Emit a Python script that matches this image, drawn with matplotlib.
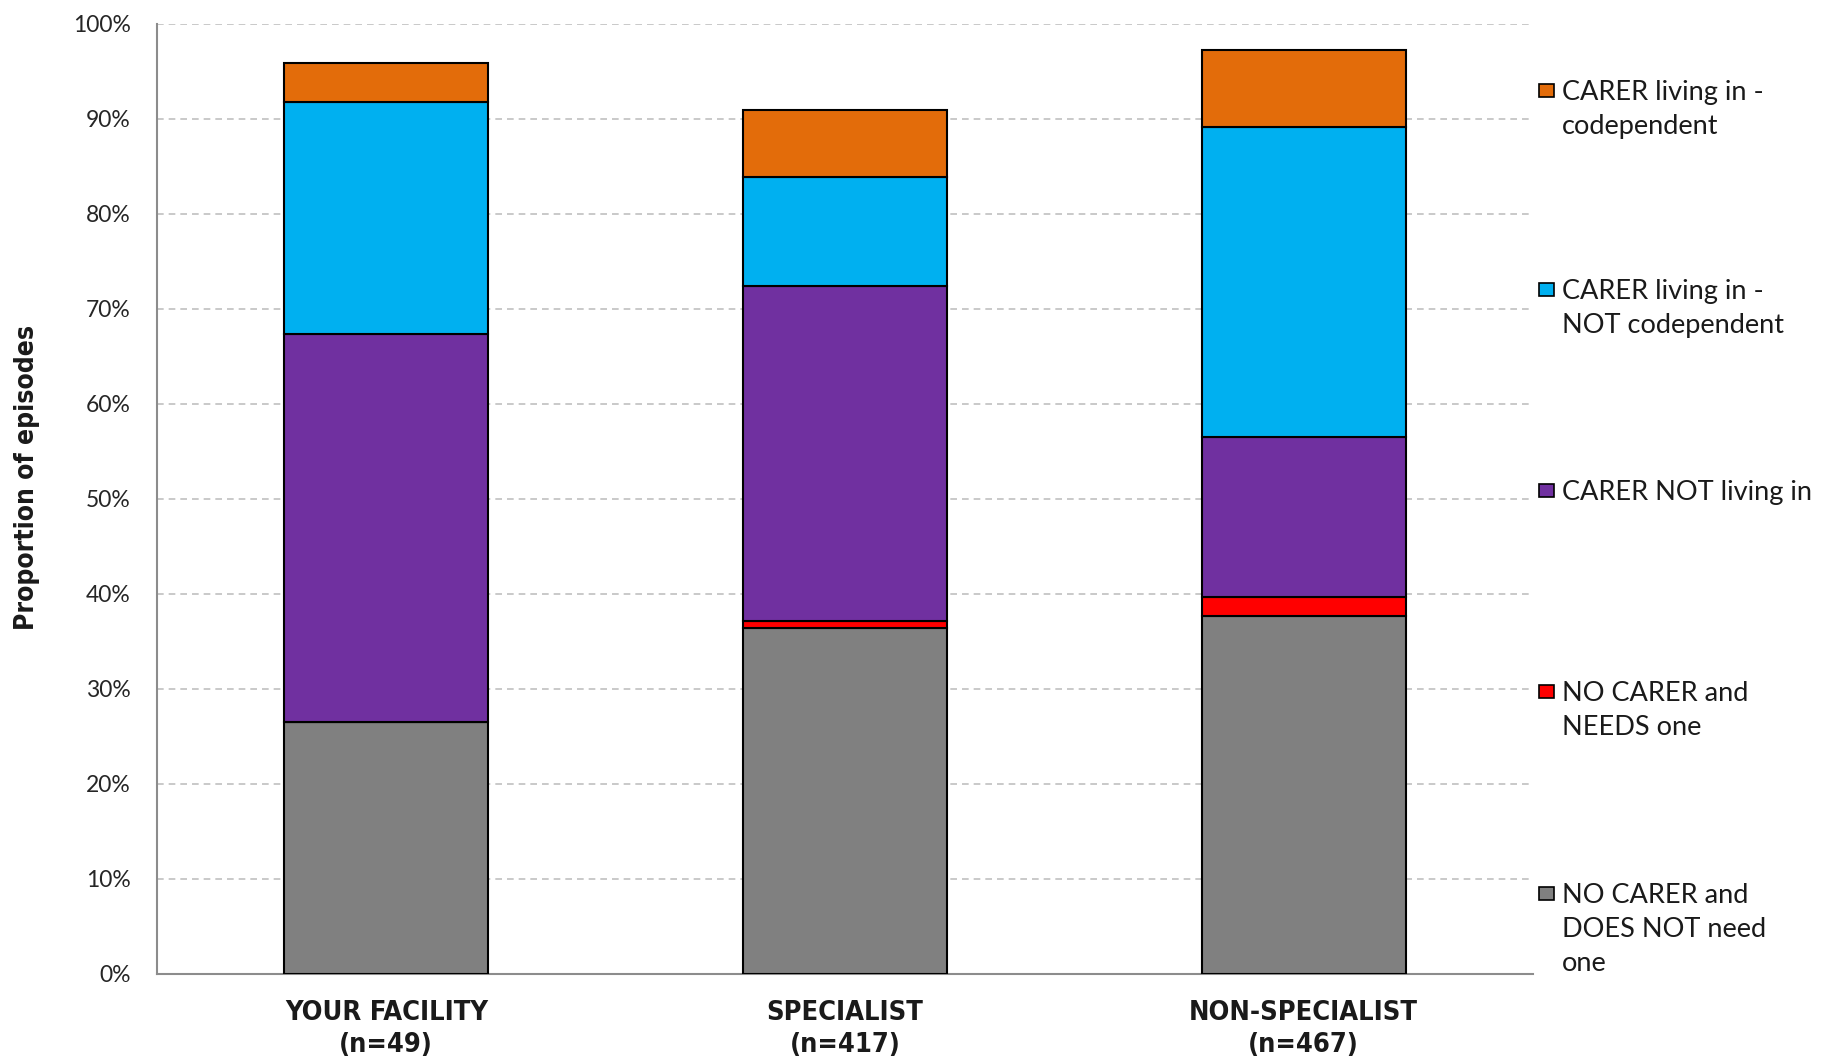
import numpy as np
import matplotlib
matplotlib.use("Agg")
import matplotlib.pyplot as plt
from matplotlib.patches import Rectangle
from matplotlib.ticker import PercentFormatter

# groups along the x axis
groups = ["YOUR FACILITY\n(n=49)", "SPECIALIST\n(n=417)", "NON-SPECIALIST\n(n=467)"]

# stacked series, bottom to top, in percent of episodes
no_carer_no_need = [26.5, 36.4, 37.7]
no_carer_needs = [0.0, 0.7, 1.9]
carer_not_living_in = [40.8, 35.3, 16.9]
carer_living_not_codep = [24.5, 11.5, 32.6]
carer_living_codep = [4.1, 7.0, 8.1]

series = [no_carer_no_need, no_carer_needs, carer_not_living_in,
          carer_living_not_codep, carer_living_codep]
labels = ["NO CARER and\nDOES NOT need\none", "NO CARER and\nNEEDS one",
          "CARER NOT living in", "CARER living in -\nNOT codependent",
          "CARER living in -\ncodependent"]
colors = ["#808080", "#FF0000", "#7030A0", "#00B0F0", "#E36C0A"]

plain_font = ["Lato", "DejaVu Sans"]
bold_font = ["DejaVu Sans"]

fig = plt.figure(figsize=(18.25, 10.6), dpi=100)
ax = fig.add_axes([0.086, 0.0814, 0.754, 0.8963])

x = np.arange(len(groups))
bottom = np.zeros(len(groups))
for vals, col, lab in zip(series, colors, labels):
    ax.bar(x, vals, width=0.445, bottom=bottom, color=col, edgecolor="black",
           linewidth=1.5, label=lab, zorder=3)
    bottom = bottom + np.array(vals)

ax.set_xlim(-0.5, 2.5)
ax.set_ylim(0, 100)
ax.set_yticks(np.arange(0, 101, 10))
ax.yaxis.set_major_formatter(PercentFormatter(decimals=0))
ax.grid(axis="y", linestyle=(0, (4, 3)), color="#c0c0c0", linewidth=1.2, zorder=0)

for s in ["top", "right"]:
    ax.spines[s].set_visible(False)
ax.spines["left"].set_color("#8c8c8c")
ax.spines["bottom"].set_color("#8c8c8c")
ax.spines["left"].set_linewidth(1.5)
ax.spines["bottom"].set_linewidth(1.5)

ax.tick_params(axis="y", length=0, pad=19)
ax.tick_params(axis="x", length=0, pad=19)
for t in ax.get_yticklabels():
    t.set_family(plain_font)
    t.set_fontsize(16.5)
    t.set_color("#262626")

ax.set_xticks(x)
ax.set_xticklabels(groups, family=bold_font, fontweight="bold", fontstretch="condensed",
                   fontsize=19.5, linespacing=1.3, color="#1a1a1a")

ax.set_ylabel("Proportion of episodes", family=bold_font, fontweight="bold",
              fontstretch="condensed", fontsize=19, color="#1a1a1a")
ax.yaxis.set_label_coords(-0.085, 0.522)

# legend drawn by hand: equal spacing, swatch next to the first line
legend_y = [892.8, 691.4, 490.0, 288.7, 89.6]  # first-line centres in pixels
W, H = 1825.0, 1060.0
for lab, col, ypx in zip(labels, colors, legend_y):
    fig.patches.append(Rectangle((1539 / W, 1 - (ypx + 7) / H), 15 / W, 13 / H,
                                 transform=fig.transFigure, facecolor=col,
                                 edgecolor="black", linewidth=1.2))
    fig.text(1562 / W, 1 - (ypx - 10) / H, lab, family=plain_font, fontsize=19.5,
             va="top", ha="left", linespacing=1.45, color="#1a1a1a")

fig.savefig("out.png", dpi=100)
